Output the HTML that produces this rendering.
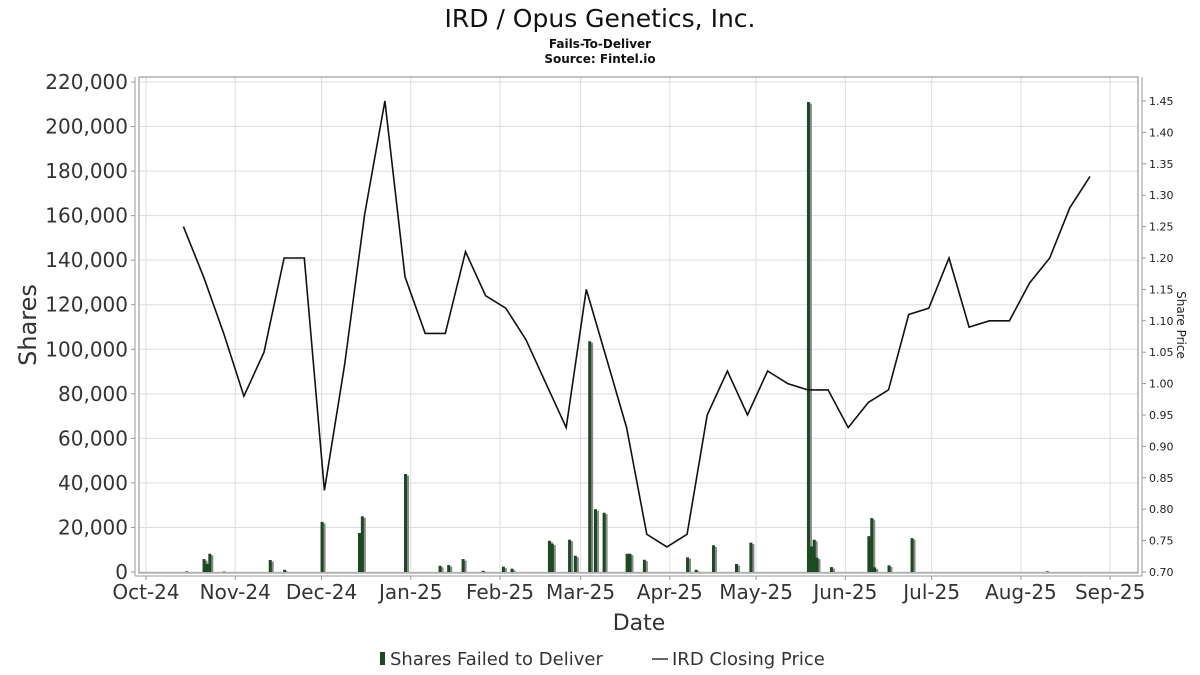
<!DOCTYPE html>
<html><head><meta charset="utf-8">
<style>
html,body{margin:0;padding:0;background:#fff;}
svg{display:block;font-family:"DejaVu Sans","Liberation Sans",sans-serif;}
</style></head>
<body>
<svg id="chart" width="1200" height="675" viewBox="0 0 1200 675" xmlns="http://www.w3.org/2000/svg">
<text x="600" y="27" text-anchor="middle" font-size="25" fill="#111">IRD / Opus Genetics, Inc.</text>
<text x="600" y="48" text-anchor="middle" font-size="12" font-weight="bold" fill="#111">Fails-To-Deliver</text>
<text x="600" y="63" text-anchor="middle" font-size="12" font-weight="bold" fill="#111">Source: Fintel.io</text>
<g id="grid"></g>
<g id="bars"></g>
<g id="line"></g>
<g id="axes"></g>
<text x="639" y="630" text-anchor="middle" font-size="22" fill="#333">Date</text>
<text transform="translate(36,325) rotate(-90)" text-anchor="middle" font-size="24" fill="#333">Shares</text>
<text transform="translate(1177,325) rotate(90)" text-anchor="middle" font-size="12" fill="#222">Share Price</text>
<g>
<rect x="380" y="652" width="5" height="13" fill="#1a4a20"/>
<text x="390" y="665" font-size="18" fill="#333">Shares Failed to Deliver</text>
<line x1="652" y1="659" x2="668" y2="659" stroke="#333" stroke-width="1.5"/>
<text x="672" y="665" font-size="18" fill="#333">IRD Closing Price</text>
</g>
</svg>
<script>
const barDates = ["2024-10-15","2024-10-21","2024-10-22","2024-10-23","2024-10-28","2024-11-13","2024-11-18","2024-12-01","2024-12-14","2024-12-15","2024-12-30","2025-01-11","2025-01-14","2025-01-19","2025-01-26","2025-02-02","2025-02-05","2025-02-18","2025-02-19","2025-02-25","2025-02-27","2025-03-04","2025-03-06","2025-03-09","2025-03-17","2025-03-18","2025-03-23","2025-04-07","2025-04-10","2025-04-16","2025-04-24","2025-04-29","2025-05-19","2025-05-20","2025-05-21","2025-05-22","2025-05-27","2025-06-09","2025-06-10","2025-06-11","2025-06-16","2025-06-24","2025-08-10"];
const barValues = [300,5800,3700,8200,200,5400,1000,22500,17500,25000,44000,2800,3100,5800,500,2400,1500,14000,12700,14500,7300,103600,28200,26600,8200,8200,5500,6600,1000,12000,3600,13200,211000,11500,14500,6400,2200,16100,24200,2100,3000,15200,300];
const priceStart = "2024-10-14";
const priceValues = [1.25,1.17,1.08,0.98,1.05,1.20,1.20,0.83,1.03,1.27,1.45,1.17,1.08,1.08,1.21,1.14,1.12,1.07,1.00,0.93,1.15,1.04,0.93,0.76,0.74,0.76,0.95,1.02,0.95,1.02,1.00,0.99,0.99,0.93,0.97,0.99,1.11,1.12,1.20,1.09,1.10,1.10,1.16,1.20,1.28,1.33];
const xTickLabels = ["Oct-24","Nov-24","Dec-24","Jan-25","Feb-25","Mar-25","Apr-25","May-25","Jun-25","Jul-25","Aug-25","Sep-25"];
const xTickDates = ["2024-10-01","2024-11-01","2024-12-01","2025-01-01","2025-02-01","2025-03-01","2025-04-01","2025-05-01","2025-06-01","2025-07-01","2025-08-01","2025-09-01"];
const yTicks = [0,20000,40000,60000,80000,100000,120000,140000,160000,180000,200000,220000];
const y2Ticks = [0.70,0.75,0.80,0.85,0.90,0.95,1.00,1.05,1.10,1.15,1.20,1.25,1.30,1.35,1.40,1.45];

const NS="http://www.w3.org/2000/svg";
const L=139,R=1138,T=77,B=573;
const day0=Date.UTC(2024,9,1);
function dayIdx(s){const p=s.split("-");return (Date.UTC(+p[0],+p[1]-1,+p[2])-day0)/86400000;}
function xs(d){return 146+d*2.878;}
function ys(v){return 572-v*(490/220000);}
function yp(v){return 572-(v-0.70)*628;}
function mk(tag,attrs,parent){const e=document.createElementNS(NS,tag);for(const k in attrs)e.setAttribute(k,attrs[k]);parent.appendChild(e);return e;}
const grid=document.getElementById("grid"),bars=document.getElementById("bars"),line=document.getElementById("line"),axes=document.getElementById("axes");

mk("rect",{x:L,y:T,width:R-L,height:B-T,fill:"#fff",stroke:"none"},grid);
yTicks.forEach(v=>{const y=ys(v);const g=mk("line",{x1:L,x2:R,y1:y,y2:y,stroke:"#ddd","stroke-width":1},grid);


const t=mk("text",{x:128,y:y+7,"text-anchor":"end","font-size":20,fill:"#333"},axes);t.textContent=v.toLocaleString("en-US");


mk("line",{x1:131,x2:135,y1:y,y2:y,stroke:"#999"},axes);});
y2Ticks.forEach(v=>{const y=yp(v);
const t=mk("text",{x:1149,y:y+4,"font-size":11,fill:"#222"},axes);t.textContent=v.toFixed(2);


mk("line",{x1:1142,x2:1146,y1:y,y2:y,stroke:"#999"},axes);});
xTickDates.forEach((s,i)=>{const x=xs(dayIdx(s));const g=mk("line",{x1:x,x2:x,y1:T,y2:B,stroke:"#ddd","stroke-width":1},grid);


mk("line",{x1:x,x2:x,y1:576,y2:580,stroke:"#999"},axes);
const t=mk("text",{x:x,y:599,"text-anchor":"middle","font-size":20,fill:"#333"},axes);t.textContent=xTickLabels[i];

});

barDates.forEach((s,i)=>{const x=xs(dayIdx(s))-1;const y=ys(barValues[i]);const h=572-y;
const sh=mk("rect",{x:x+2,y:y+1.5,width:3,height:Math.max(h-1.5,0.5),fill:"#8a8a8a"},bars);


const b=mk("rect",{x:x,y:y,width:3,height:Math.max(h,0.5),fill:"#1a4a20"},bars);

});

const ps=dayIdx(priceStart);
const pts=priceValues.map((v,i)=>xs(ps+i*7).toFixed(1)+","+yp(v).toFixed(1)).join(" ");
const pl=mk("polyline",{points:pts,fill:"none",stroke:"#111","stroke-width":1.6,"stroke-linejoin":"miter"},line);



mk("rect",{x:L,y:T,width:R-L,height:B-T,fill:"none",stroke:"#888","stroke-width":1},axes);
mk("line",{x1:135,x2:135,y1:T,y2:576,stroke:"#999"},axes);
mk("line",{x1:1142,x2:1142,y1:T,y2:576,stroke:"#999"},axes);
mk("line",{x1:135,x2:1142,y1:576,y2:576,stroke:"#999"},axes);
</script>
</body></html>
